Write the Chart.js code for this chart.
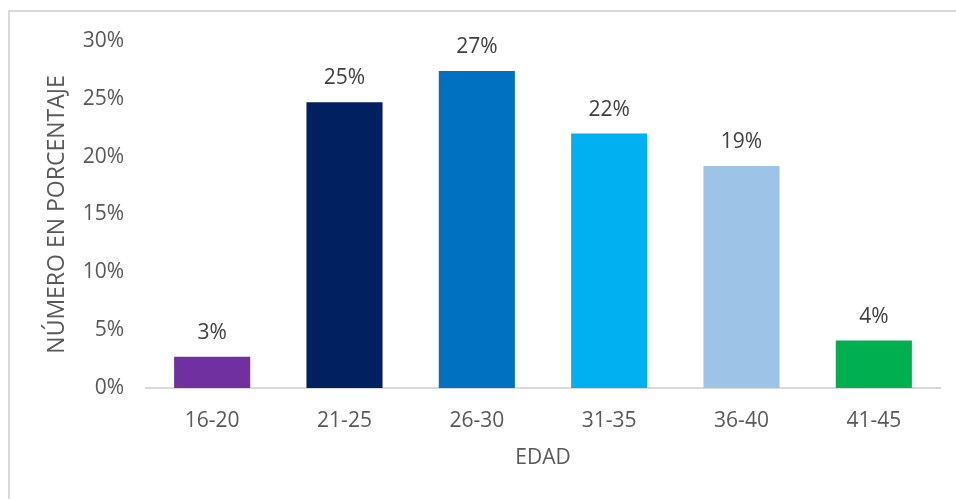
<!DOCTYPE html>
<html>
<head>
<meta charset="utf-8">
<script src="https://cdn.jsdelivr.net/npm/chart.js@4/dist/chart.umd.min.js"></script>
<style>
  html, body { margin: 0; padding: 0; background: #fff; overflow: hidden; }
  #frame {
    position: absolute; left: 8px; top: 10px;
    width: 1000px; height: 600px;
    border: 2px solid #d9d9d9; box-sizing: border-box;
  }
  #wrap { position: absolute; left: 0; top: 0; width: 956px; height: 499px; }
</style>
</head>
<body>
<div id="frame"></div>
<div id="wrap"><canvas id="edadChart"></canvas></div>
<script>
// age groups and share of respondents (%)
const categories = ['16-20', '21-25', '26-30', '31-35', '36-40', '41-45'];
const percentages = [2.7, 24.7, 27.4, 22.0, 19.2, 4.1];
const barColors = ['#7030A0', '#002060', '#0070C0', '#00B0F0', '#9DC3E6', '#00B050'];
const yTicks = [0, 5, 10, 15, 20, 25, 30];

const FONT = "'Open Sans', sans-serif";

// simple value labels above each bar (no datalabels plugin offline)
const barValueLabels = {
    id: 'barValueLabels',
    afterDatasetsDraw(chart) {
        const ctx = chart.ctx;
        const meta = chart.getDatasetMeta(0);
        ctx.save();
        ctx.font = '21px ' + FONT;
        ctx.fillStyle = '#404040';
        ctx.textAlign = 'center';
        ctx.textBaseline = 'alphabetic';
        meta.data.forEach((bar, i) => {
            ctx.fillText(Math.round(percentages[i]) + '%', bar.x, bar.y - 18);
        });
        ctx.restore();
    }
};

const ctx = document.getElementById('edadChart').getContext('2d');

new Chart(ctx, {
    type: 'bar',
    data: {
        labels: categories,
        datasets: [{
            data: percentages,
            backgroundColor: barColors,
            borderWidth: 0,
            categoryPercentage: 1,
            barPercentage: 0.575
        }]
    },
    options: {
        responsive: true,
        maintainAspectRatio: false,
        animation: false,
        layout: { padding: { left: 0, top: 41, right: 16, bottom: 0 } },
        scales: {
            x: {
                grid: { display: false, drawTicks: false },
                border: { display: true, color: '#d9d9d9', width: 2 },
                ticks: { color: '#595959', font: { family: FONT, size: 21 }, padding: 20 },
                title: {
                    display: true,
                    text: 'EDAD',
                    color: '#595959',
                    font: { family: FONT, size: 21 },
                    padding: { top: 0, bottom: 28 }
                },
                afterFit: scale => { scale.height = 111; }
            },
            y: {
                min: 0,
                max: 30,
                afterBuildTicks: scale => { scale.ticks = yTicks.map(v => ({ value: v })); },
                grid: { display: false, drawTicks: false },
                border: { display: false },
                ticks: {
                    color: '#595959',
                    font: { family: FONT, size: 21 },
                    padding: 22,
                    callback: value => value + '%'
                },
                title: {
                    display: true,
                    text: 'NÚMERO EN PORCENTAJE',
                    color: '#595959',
                    font: { family: FONT, size: 23 },
                    padding: { top: 44, bottom: 0 }
                },
                afterFit: scale => { scale.width = 146; }
            }
        },
        plugins: {
            legend: { display: false },
            tooltip: { enabled: false }
        }
    },
    plugins: [barValueLabels]
});
</script>
</body>
</html>
